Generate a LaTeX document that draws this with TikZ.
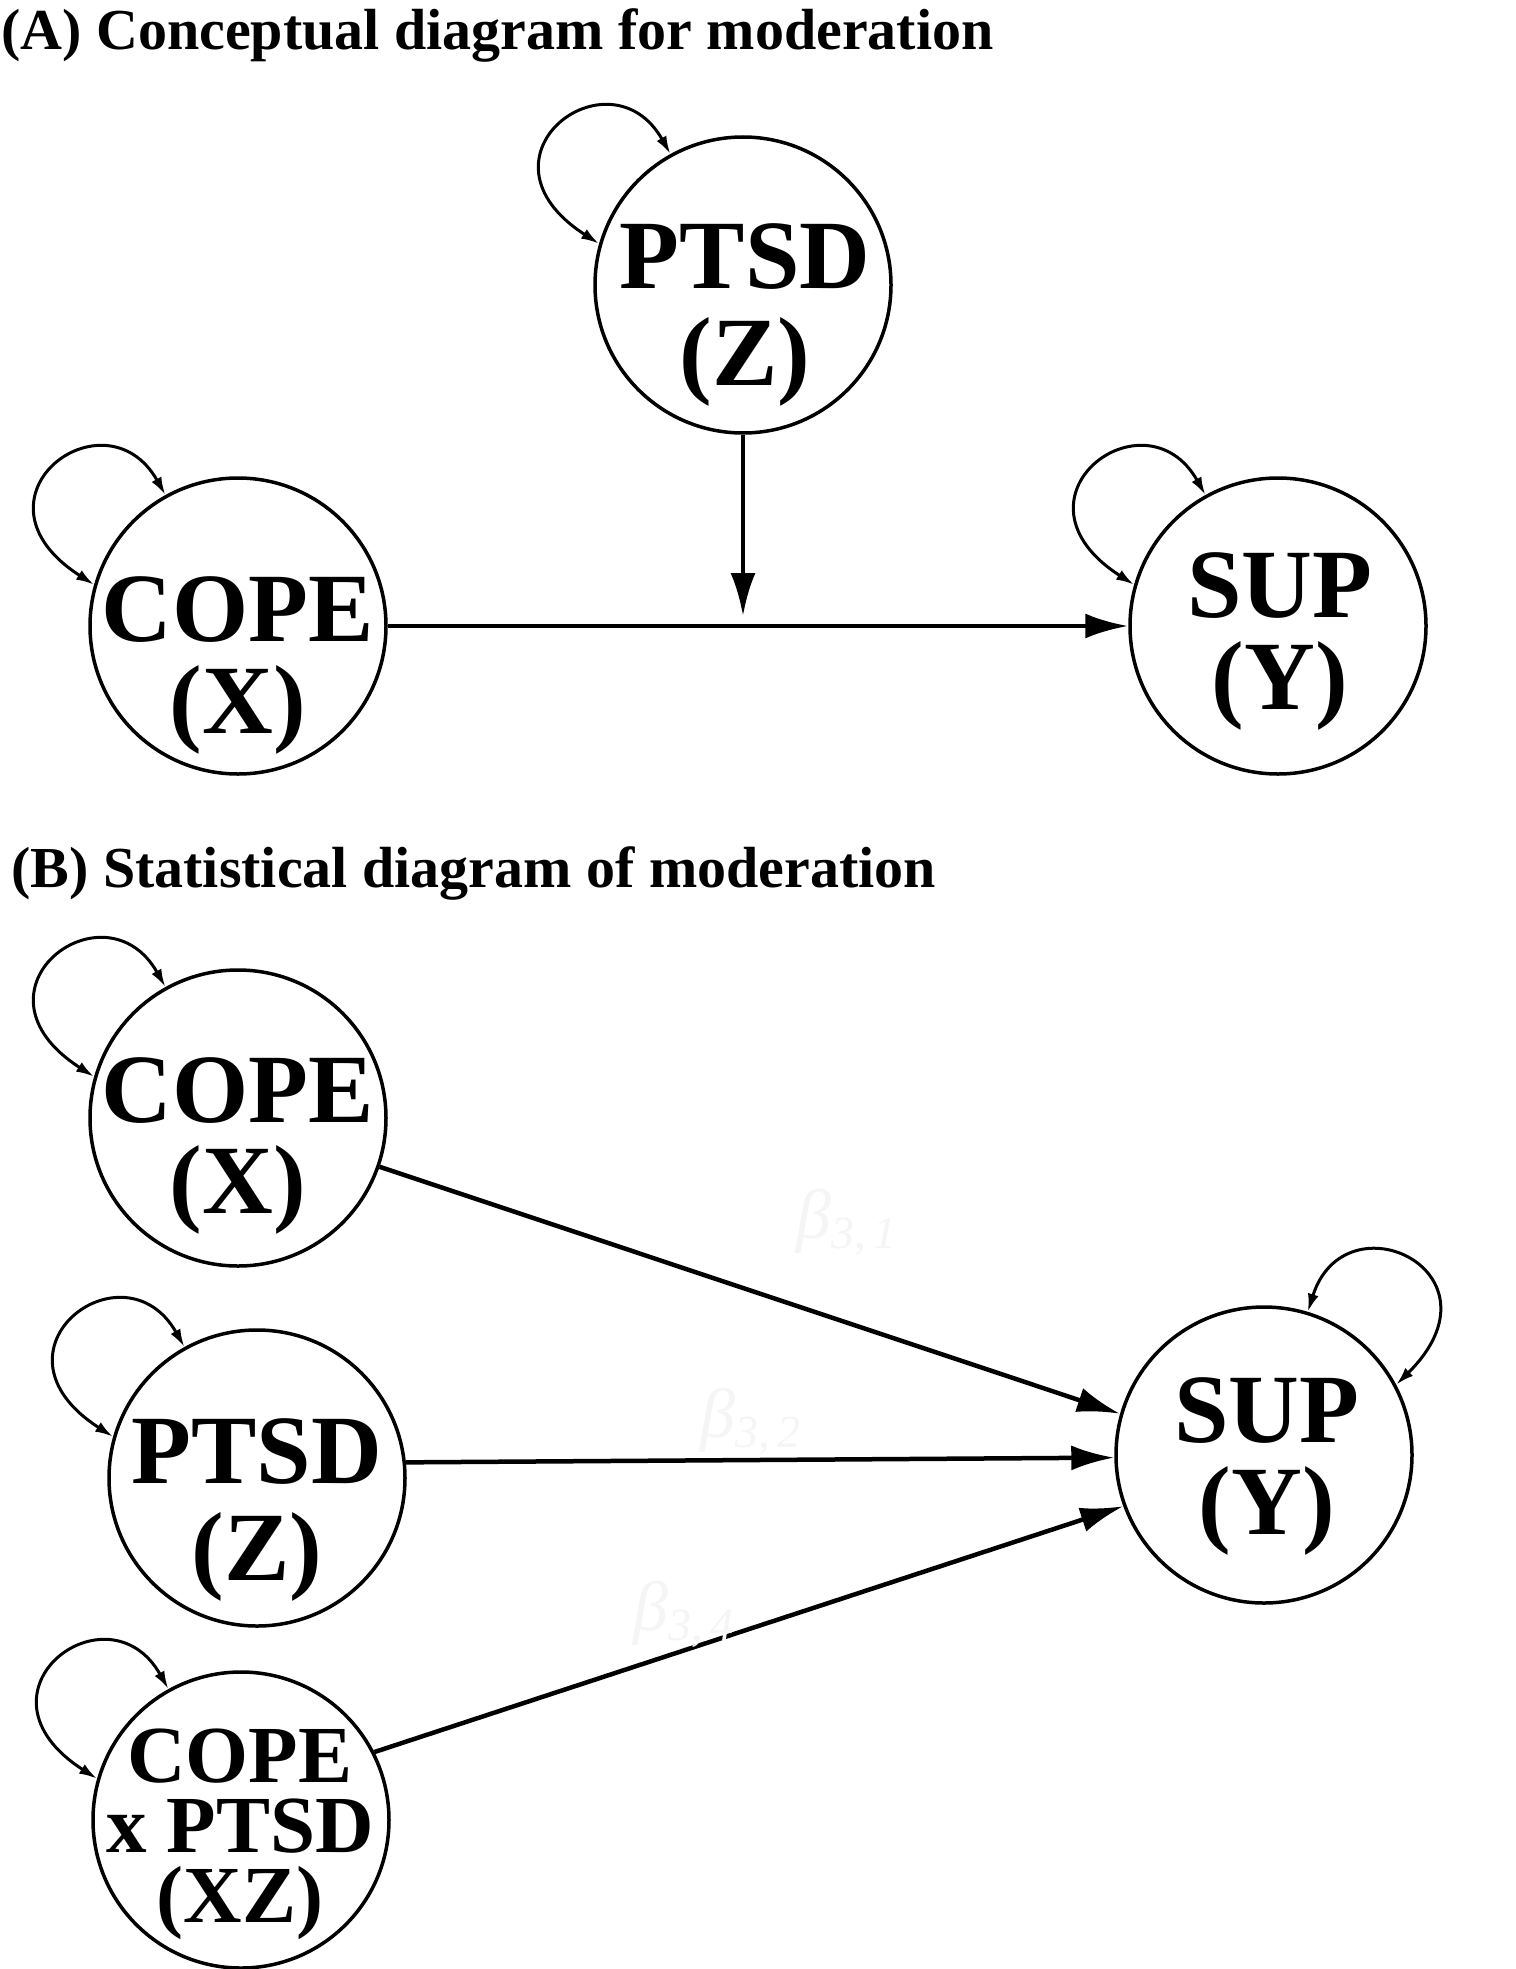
\documentclass[tikz,border=0pt]{standalone}
\usepackage{fontspec}
\setmainfont{Liberation Serif}
\usetikzlibrary{arrows.meta,calc}
\begin{document}
\begin{tikzpicture}[x=1pt,y=-1pt,
  var/.style={circle,draw,line width=3.5pt,minimum size=296pt,inner sep=0pt},
  lbl/.style={font=\fontsize{98}{98}\selectfont\bfseries,anchor=base,inner sep=0pt},
  lblsm/.style={font=\fontsize{81}{81}\selectfont\bfseries,anchor=base,inner sep=0pt},
  ttl/.style={font=\fontsize{58}{58}\selectfont\bfseries,anchor=base west,inner sep=0pt},
  coef/.style={text=black!4,font=\fontsize{70}{70}\selectfont\itshape,anchor=base west,inner sep=0pt},
  mainarrow/.style={line width=4.5pt,-{Latex[length=43pt,width=25pt]}},
  loopline/.style={line width=3pt,{Latex[length=18pt,width=11pt]}-{Latex[length=18pt,width=11pt]}}
]
\useasboundingbox[fill=white] (0,0) rectangle (1515,1969);
\newcommand{\leftloop}[1]{\draw[loopline] (#1.164) .. controls ($(#1.center)+(-279,-128)$) and ($(#1.center)+(-133,-238)$) .. (#1.119);}

% titles
\node[ttl] (ta) at (1,50) {(A) Conceptual diagram for moderation};
\node[ttl] (tb) at (11,887) {(B) Statistical diagram of moderation};

% ---- Panel A ----
\node[var] (c_za) at (743,285) {};
\node[var] (c_xa) at (238,626) {};
\node[var] (c_ya) at (1278,626) {};
\node[lbl] (l_za1) at (745,288) {PTSD};
\node[lbl] (l_za2) at (745,385) {(Z)};
\node[lbl] (l_xa1) at (238,641) {COPE};
\node[lbl] (l_xa2) at (238,733) {(X)};
\node[lbl] (l_ya1) at (1280,617) {SUP};
\node[lbl] (l_ya2) at (1280,709) {(Y)};
\leftloop{c_za}
\leftloop{c_xa}
\leftloop{c_ya}
\coordinate (m) at (743,616);
\draw[mainarrow] (c_xa) -- (c_ya);
\draw[mainarrow] (c_za) -- (m);

% ---- Panel B ----
\node[var] (c_xb) at (238,1118) {};
\node[var] (c_zb) at (257,1478) {};
\node[var] (c_xzb) at (241,1820) {};
\node[var] (c_yb) at (1264,1455) {};
\node[lbl] (l_xb1) at (238,1122) {COPE};
\node[lbl] (l_xb2) at (238,1213) {(X)};
\node[lbl] (l_zb1) at (257,1483) {PTSD};
\node[lbl] (l_zb2) at (257,1580) {(Z)};
\node[lblsm] (l_xzb1) at (240,1782) {COPE};
\node[lblsm] (l_xzb2) at (240,1852) {x PTSD};
\node[lblsm] (l_xzb3) at (240,1922) {(XZ)};
\node[lbl] (l_yb1) at (1267,1442) {SUP};
\node[lbl] (l_yb2) at (1267,1534) {(Y)};
\leftloop{c_xb}
\leftloop{c_zb}
\leftloop{c_xzb}
\draw[loopline] (c_yb.28) .. controls ($(c_yb.center)+(246,-183)$) and ($(c_yb.center)+(81,-261)$) .. (c_yb.73);
\draw[mainarrow] (c_xb.341) -- (c_yb.164);
\draw[mainarrow] (c_zb.6) -- (c_yb.181);
\draw[mainarrow] (c_xzb.27) -- (c_yb.200);

% coefficient labels (very faint)
\node[coef] (b31) at (796,1238) {β\raisebox{-10pt}{\fontsize{46}{46}\selectfont 3,\,1}};
\node[coef] (b32) at (700,1437) {β\raisebox{-10pt}{\fontsize{46}{46}\selectfont 3,\,2}};
\node[coef] (b34) at (633,1630) {β\raisebox{-10pt}{\fontsize{46}{46}\selectfont 3,\,4}};
\end{tikzpicture}
\end{document}
